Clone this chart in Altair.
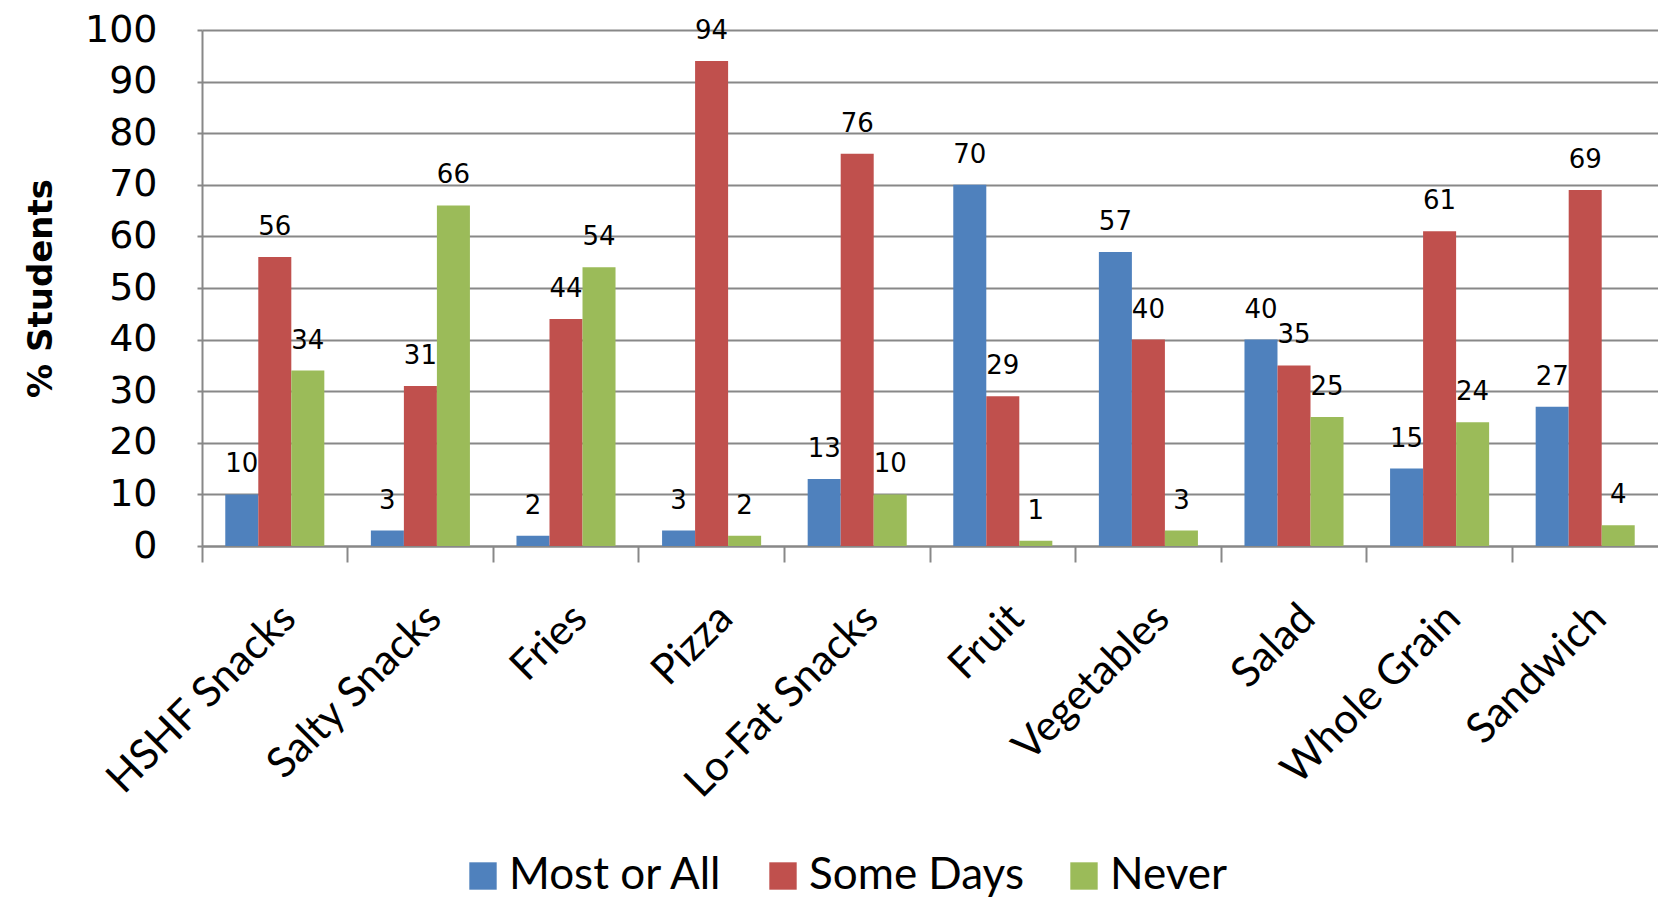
import altair as alt
import pandas as pd

categories = ["HSHF Snacks", "Salty Snacks", "Fries", "Pizza", "Lo-Fat Snacks",
              "Fruit", "Vegetables", "Salad", "Whole Grain", "Sandwich"]
series = ["Most or All", "Some Days", "Never"]
most_or_all = [10, 3, 2, 3, 13, 70, 57, 40, 15, 27]
some_days = [56, 31, 44, 94, 76, 29, 40, 35, 61, 69]
never = [34, 66, 54, 2, 10, 1, 3, 25, 24, 4]
colors = ["#4F81BD", "#C0504D", "#9BBB59"]

rows = []
for s, vals in zip(series, [most_or_all, some_days, never]):
    for c, v in zip(categories, vals):
        rows.append({"cat": c, "series": s, "value": v})
df = pd.DataFrame(rows)

base = alt.Chart(df).encode(
    x=alt.X("cat:N", sort=categories,
            scale=alt.Scale(paddingInner=0, paddingOuter=0),
            axis=alt.Axis(title=None, labelAngle=-45, labelFont="Lato",
                          labelFontSize=42, labelColor="black", labelPadding=35,
                          ticks=True, tickSize=16, tickWidth=2, tickColor="#888888",
                          bandPosition=0, domainColor="#888888", domainWidth=2,
                          grid=False, labelLimit=0)),
    xOffset=alt.XOffset("series:N", sort=series,
                        scale=alt.Scale(paddingInner=0, paddingOuter=0.705)),
    y=alt.Y("value:Q", scale=alt.Scale(domain=[0, 100]),
            axis=alt.Axis(title="% Students", values=list(range(0, 101, 10)),
                          grid=True, gridColor="#888888", gridWidth=2,
                          domainColor="#888888", domainWidth=2,
                          tickColor="#888888", tickSize=5, tickWidth=2,
                          labelFont="DejaVu Sans", labelFontSize=38,
                          labelColor="black", labelPadding=40,
                          titleFont="DejaVu Sans", titleFontWeight="bold",
                          titleFontSize=34, titleColor="black", titlePadding=26)),
)

bars = base.mark_bar().encode(
    color=alt.Color("series:N", sort=series,
                    scale=alt.Scale(domain=series, range=colors),
                    legend=alt.Legend(title=None, orient="none", direction="horizontal",
                                      legendX=259, legendY=824,
                                      symbolType="square", symbolSize=750,
                                      symbolStrokeWidth=0, symbolOpacity=1,
                                      labelFont="Lato", labelFontSize=44,
                                      labelColor="black", labelOffset=4,
                                      columnPadding=38, padding=0, labelLimit=0))
)

text = base.mark_text(dy=-30, font="DejaVu Sans", fontSize=26,
                      baseline="middle", color="black").encode(text="value:Q")

chart = alt.layer(bars, text).properties(
    width=1456, height=516,
    autosize=alt.AutoSizeParams(type="none"),
    padding={"left": 194, "top": 22, "right": 0, "bottom": 353},
).configure_view(stroke=None)

chart.save("out.html", embed_options={"renderer": "svg", "actions": False})
